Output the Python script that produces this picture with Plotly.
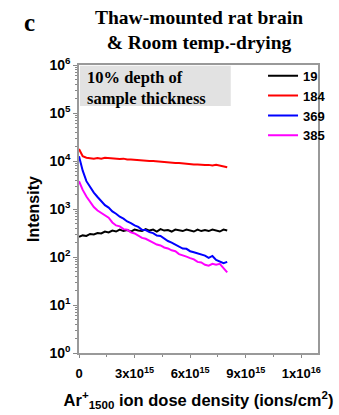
import plotly.graph_objects as go

# x in units of 1e15 ions/cm^2
dose_e15 = [0.0, 0.2, 0.4, 0.6, 0.8, 1.0, 1.2, 1.4, 1.6, 1.8, 2.0, 2.2, 2.4, 2.6, 2.8, 3.0,
            3.2, 3.4, 3.6, 3.8, 4.0, 4.2, 4.4, 4.6, 4.8, 5.0, 5.2, 5.4, 5.6, 5.8, 6.0, 6.2,
            6.4, 6.6, 6.8, 7.0, 7.2, 7.4, 7.6, 7.8, 8.0]

s19 = [263, 282, 275, 302, 295, 316, 309, 339, 324, 355, 339, 372, 347, 363, 339, 372,
       355, 347, 380, 355, 372, 339, 380, 355, 363, 339, 372, 355, 347, 372, 355, 339,
       372, 347, 363, 347, 372, 355, 339, 372, 355]
s184 = [17800, 12600, 11700, 11500, 11200, 11500, 11200, 11700, 11500, 11500, 11200, 11000,
        11200, 10700, 10700, 10500, 10500, 10200, 10200, 10000, 10000, 9800, 9800, 9500,
        9500, 9300, 9100, 9100, 8900, 8700, 8700, 8500, 8500, 8300, 8300, 8300, 8100,
        8300, 7900, 7800, 7400]
s369 = [12600, 6300, 3800, 2820, 2190, 1780, 1450, 1200, 1070, 890, 795, 690, 630, 550,
        510, 455, 425, 370, 365, 330, 315, 280, 275, 240, 215, 200, 182, 170, 150, 148,
        132, 126, 118, 110, 107, 96, 105, 87, 81, 74, 79]
s385 = [3800, 2500, 1820, 1410, 1100, 930, 830, 740, 660, 525, 455, 435, 380, 370, 325,
        310, 280, 250, 240, 215, 200, 182, 174, 158, 151, 138, 132, 115, 110, 102, 95, 89,
        79, 77, 69, 66, 72, 69, 72, 58, 48]

series_names = ["19", "184", "369", "385"]
series_vals = [s19, s184, s369, s385]
series_colors = ["#000000", "#ff0000", "#0000ff", "#ff00ff"]

x_tickvals = [0, 3e15, 6e15, 9e15, 12e15]
x_ticktext = ["<b>0</b>", "<b>3x10<sup>15</sup></b>", "<b>6x10<sup>15</sup></b>",
              "<b>9x10<sup>15</sup></b>", "<b>1x10<sup>16</sup></b>"]
y_exps = [0, 1, 2, 3, 4, 5, 6]

x_vals = [d * 1e15 for d in dose_e15]

fig = go.Figure()
for name, vals, col in zip(series_names, series_vals, series_colors):
    fig.add_trace(go.Scatter(x=x_vals, y=vals, mode="lines", name="<b>%s</b>" % name,
                             line=dict(color=col, width=2)))

ymin_ticks = [m * 10 ** e for e in range(0, 6) for m in range(2, 10)]

fig.update_layout(
    width=339, height=415,
    margin=dict(l=79, r=8, t=65, b=60),
    paper_bgcolor="white", plot_bgcolor="white",
    font=dict(family="Liberation Sans, Arial", color="black"),
    showlegend=True,
    legend=dict(x=0.77, y=1.015, xanchor="left", yanchor="top",
                bgcolor="rgba(0,0,0,0)", font=dict(size=13, family="Liberation Sans"),
                tracegroupgap=0, itemwidth=30),
    xaxis=dict(range=[0, 12.9e15], tickvals=x_tickvals, ticktext=x_ticktext,
               ticks="outside", ticklen=3, tickcolor="#888", showgrid=False, zeroline=False,
               showline=True, linecolor="#999", linewidth=1.5, mirror=True,
               tickfont=dict(size=13), ticklabelstandoff=5,
               minor=dict(tickvals=[1.5e15, 4.5e15, 7.5e15, 10.5e15], ticks="outside",
                          ticklen=2, tickcolor="#888"),
               title=dict(text="<b>Ar<sup>+</sup><sub>1500</sub> ion dose density (ions/cm<sup>2</sup>)</b>",
                          font=dict(size=16.5), standoff=14)),
    yaxis=dict(type="log", range=[0, 6], tickvals=[10 ** e for e in y_exps],
               ticktext=["<b>10<sup>%d</sup></b>" % e for e in y_exps],
               ticks="outside", ticklen=4, tickcolor="#888", showgrid=False, zeroline=False,
               showline=True, linecolor="#999", linewidth=1.5, mirror=True,
               tickfont=dict(size=14),
               minor=dict(tickvals=ymin_ticks, ticks="outside", ticklen=2, tickcolor="#888"),
               title=dict(text="<b>Intensity</b>", font=dict(size=16), standoff=6)),
)

# Gray annotation box
fig.add_shape(type="rect", xref="paper", yref="paper", x0=0.004, x1=0.635, y0=0.858, y1=0.997,
              fillcolor="#e2e2e2", line=dict(width=0), layer="below")
fig.add_annotation(xref="paper", yref="paper", x=0.025, y=0.995, xanchor="left", yanchor="top",
                   text="<b>10% depth of<br>sample thickness</b>", showarrow=False, align="left",
                   font=dict(family="Liberation Serif, Times New Roman", size=16.5, color="black"))

# Title and panel letter
fig.add_annotation(xref="paper", yref="paper", x=0.5, y=1.0, yshift=60, xanchor="center",
                   yanchor="top", showarrow=False, align="center",
                   text="<b>Thaw-mounted rat brain<br>& Room temp.-drying</b>",
                   font=dict(family="Liberation Serif, Times New Roman", size=19.5, color="black"))
fig.add_annotation(xref="paper", yref="paper", x=-0.24, y=1.0, yshift=58, xanchor="left",
                   yanchor="top", showarrow=False, text="<b>c</b>",
                   font=dict(family="Liberation Serif, Times New Roman", size=25, color="black"))

fig.write_html("out.html", config={"displayModeBar": False},
               post_script="document.body.style.margin='0px';")
